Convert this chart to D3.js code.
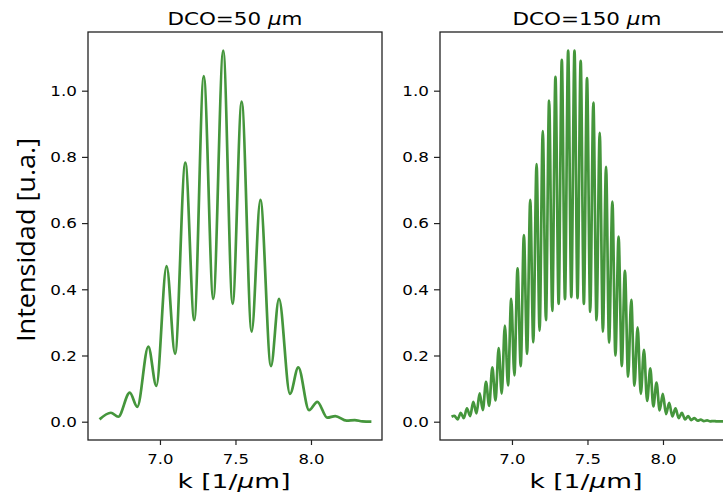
<!DOCTYPE html>
<html>
<head>
<meta charset="utf-8">
<script src="https://cdn.jsdelivr.net/npm/d3@7"></script>
<style>
  html, body { margin: 0; padding: 0; background: #ffffff; }
  svg { display: block; }
</style>
</head>
<body>
<svg id="chart" width="723" height="500"></svg>
<script>
// ---- data ----
const kLeft = [6.600, 6.675, 6.724, 6.800, 6.850, 6.923, 6.976, 7.044, 7.100, 7.168,
               7.227, 7.290, 7.353, 7.419, 7.481, 7.541, 7.607, 7.665, 7.735, 7.788,
               7.861, 7.916, 7.987, 8.042, 8.108, 8.161, 8.236, 8.290, 8.340, 8.400];
const iLeft = [0.007, 0.027, 0.015, 0.088, 0.045, 0.227, 0.108, 0.470, 0.205, 0.783,
               0.307, 1.044, 0.371, 1.121, 0.356, 0.967, 0.272, 0.670, 0.168, 0.371,
               0.084, 0.164, 0.035, 0.060, 0.012, 0.017, 0.003, 0.005, 0.001, 0.000];

const kRight = [6.600, 6.619, 6.640, 6.661, 6.681, 6.702, 6.723, 6.744, 6.765, 6.786,
                6.807, 6.828, 6.849, 6.870, 6.891, 6.912, 6.932, 6.953, 6.974, 6.995,
                7.016, 7.037, 7.058, 7.079, 7.100, 7.121, 7.141, 7.163, 7.183, 7.204,
                7.225, 7.246, 7.267, 7.288, 7.309, 7.330, 7.351, 7.372, 7.393, 7.414,
                7.434, 7.455, 7.476, 7.497, 7.518, 7.539, 7.560, 7.581, 7.602, 7.623,
                7.643, 7.665, 7.685, 7.706, 7.727, 7.748, 7.769, 7.790, 7.811, 7.832,
                7.853, 7.874, 7.895, 7.916, 7.936, 7.957, 7.978, 7.999, 8.020, 8.041,
                8.062, 8.083, 8.104, 8.125, 8.146, 8.167, 8.187, 8.208, 8.229, 8.250,
                8.271, 8.292, 8.313, 8.334, 8.355, 8.376, 8.400];
const iRight = [0.015, 0.018, 0.007, 0.027, 0.011, 0.040, 0.017, 0.060, 0.025, 0.086,
                0.035, 0.120, 0.048, 0.164, 0.064, 0.222, 0.085, 0.290, 0.110, 0.371,
                0.140, 0.463, 0.168, 0.564, 0.205, 0.670, 0.240, 0.778, 0.275, 0.878,
                0.307, 0.970, 0.335, 1.042, 0.356, 1.093, 0.370, 1.121, 0.376, 1.121,
                0.373, 1.090, 0.356, 1.038, 0.332, 0.964, 0.307, 0.873, 0.272, 0.770,
                0.239, 0.665, 0.200, 0.559, 0.168, 0.456, 0.136, 0.368, 0.109, 0.285,
                0.084, 0.217, 0.063, 0.161, 0.046, 0.118, 0.034, 0.084, 0.023, 0.057,
                0.016, 0.040, 0.011, 0.027, 0.007, 0.017, 0.005, 0.011, 0.003, 0.006,
                0.002, 0.004, 0.001, 0.002, 0.001, 0.001, 0.001];

const xTickValues = [7.0, 7.5, 8.0];
const yTickValues = [0.0, 0.2, 0.4, 0.6, 0.8, 1.0];
const panelTitles = ["DCO=50", "DCO=150"];
const xLabelText = "k [1/";
const yLabelText = "Intensidad [u.a.]";

// ---- layout ----
const svg = d3.select("#chart");
const W = 294, H = 408;
const panels = [
  { left: 88,  top: 32, k: kLeft,  v: iLeft,  title: panelTitles[0], titleLen: 135, labelLen: 113 },
  { left: 440, top: 32, k: kRight, v: iRight, title: panelTitles[1], titleLen: 149, labelLen: 113 }
];

const x = d3.scaleLinear().domain([6.5235, 8.4702]).range([0, W]);
const y = d3.scaleLinear().domain([-0.0553, 1.1773]).range([H, 0]);
const lineColor = "#45963c";
const ink = "#000";

function stretch(sel, f) {
  sel.each(function () {
    const w = this.getComputedTextLength();
    d3.select(this).attr("textLength", w * f).attr("lengthAdjust", "spacingAndGlyphs");
  });
}

panels.forEach((p, idx) => {
  const g = svg.append("g").attr("transform", `translate(${p.left},${p.top})`);

  const clipId = "clip" + idx;
  g.append("clipPath").attr("id", clipId)
    .append("rect").attr("x", 0).attr("y", 0).attr("width", W).attr("height", H);

  const data = p.k.map((k, i) => [k, p.v[i]]);
  const line = d3.line().x(d => x(d[0])).y(d => y(d[1])).curve(d3.curveMonotoneX);
  g.append("path")
    .attr("clip-path", `url(#${clipId})`)
    .attr("d", line(data))
    .attr("fill", "none")
    .attr("stroke", lineColor)
    .attr("stroke-width", 2.7)
    .attr("stroke-linejoin", "round")
    .attr("stroke-linecap", "butt");

  // axes
  const xa = g.append("g").attr("transform", `translate(0,${H})`)
    .call(d3.axisBottom(x).tickValues(xTickValues).tickSize(5).tickFormat(d3.format(".1f")));
  xa.select(".domain").remove();
  xa.selectAll(".tick line").attr("stroke", "#222").attr("stroke-width", 1.2);
  xa.selectAll(".tick text")
    .attr("y", 23.5).attr("dy", 0)
    .attr("fill", ink)
    .style("font-family", "DejaVu Sans")
    .style("font-size", "13.2px")
    .call(stretch, 1.25);

  const ya = g.append("g")
    .call(d3.axisLeft(y).tickValues(yTickValues).tickSize(6).tickFormat(d3.format(".1f")));
  ya.select(".domain").remove();
  ya.selectAll(".tick line").attr("stroke", "#222").attr("stroke-width", 1.2);
  ya.selectAll(".tick text")
    .attr("x", -11).attr("dy", "0.36em")
    .attr("fill", ink)
    .style("font-family", "DejaVu Sans")
    .style("font-size", "13.2px")
    .call(stretch, 1.27);

  // frame
  g.append("rect").attr("x", 0).attr("y", 0).attr("width", W).attr("height", H)
    .attr("fill", "none").attr("stroke", "#222").attr("stroke-width", 1.3);

  // title
  const t = g.append("text")
    .attr("x", W / 2).attr("y", 25 - p.top)
    .attr("text-anchor", "middle")
    .attr("fill", ink)
    .style("font-family", "DejaVu Sans")
    .style("font-size", "18.2px")
    .attr("textLength", p.titleLen).attr("lengthAdjust", "spacingAndGlyphs");
  t.append("tspan").text(p.title + " ");
  t.append("tspan").style("font-style", "italic").text("\u03bc");
  t.append("tspan").text("m");

  // x label
  const xl = g.append("text")
    .attr("x", W / 2 - 1).attr("y", 488 - p.top)
    .attr("text-anchor", "middle")
    .attr("fill", ink)
    .style("font-family", "DejaVu Sans")
    .style("font-size", "20px")
    .attr("textLength", p.labelLen).attr("lengthAdjust", "spacingAndGlyphs");
  xl.append("tspan").text(xLabelText);
  xl.append("tspan").style("font-style", "italic").text("\u03bc");
  xl.append("tspan").text("m]");
});

// y label
svg.append("text")
  .attr("transform", "translate(35,240) rotate(-90)")
  .attr("text-anchor", "middle")
  .attr("fill", ink)
  .style("font-family", "Open Sans")
  .style("font-size", "25px")
  .attr("textLength", 204).attr("lengthAdjust", "spacingAndGlyphs")
  .text(yLabelText);
</script>
</body>
</html>
